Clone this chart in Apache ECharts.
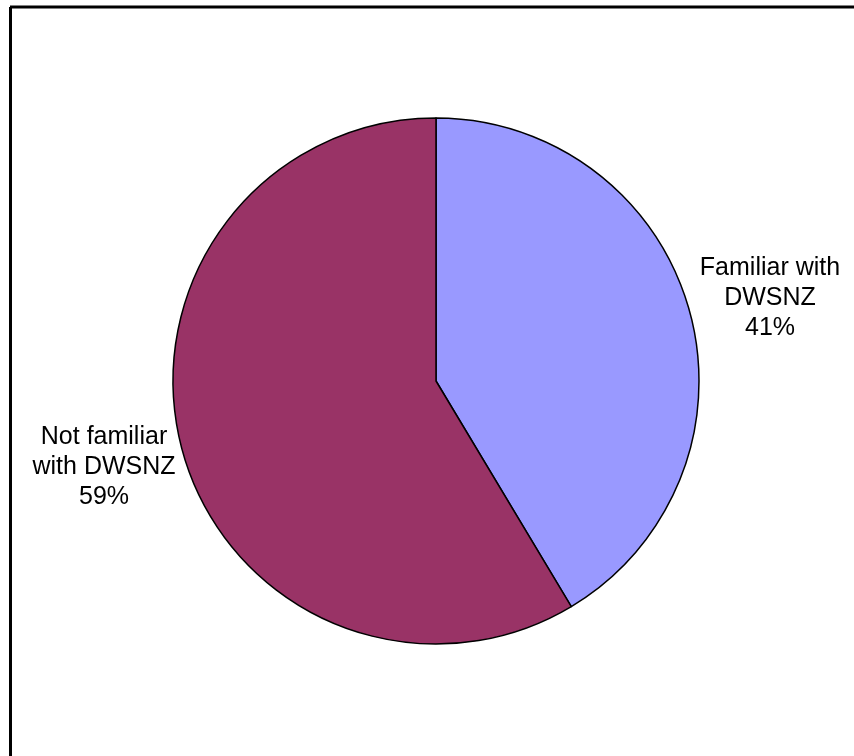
<!DOCTYPE html>
<html>
<head>
<meta charset="utf-8">
<script src="https://cdn.jsdelivr.net/npm/echarts@6/dist/echarts.min.js"></script>
<style>
  html, body { margin: 0; padding: 0; background: #fff; }
  #main { width: 854px; height: 756px; }
</style>
</head>
<body>
<div id="main"></div>
<script>
var categories = ["Familiar with\nDWSNZ", "Not familiar\nwith DWSNZ"];
// slice split (labels round to 41% / 59%)
var values = [41.4, 58.6];
var colors = ["#9999FF", "#993366"];

// label spots (block centres) for each slice
var labelSpots = [[770, 298], [104, 467]];

var dataList = [];
for (var i = 0; i < categories.length; i++) {
  dataList.push({
    name: categories[i],
    value: values[i],
    itemStyle: { color: colors[i] }
  });
}

var myChart = echarts.init(document.getElementById("main"));
myChart.setOption({
  animation: false,
  graphic: [
    // frame: only top and left edges show in the picture
    { type: "line", shape: { x1: 10.5, y1: 7, x2: 10.5, y2: 756 }, style: { stroke: "#000", lineWidth: 3 } },
    { type: "line", shape: { x1: 10, y1: 7, x2: 854, y2: 7 }, style: { stroke: "#000", lineWidth: 3 } }
  ],
  series: [
    {
      type: "pie",
      center: [436, 381],
      radius: 263,
      startAngle: 90,
      clockwise: true,
      itemStyle: {
        borderColor: "#000",
        borderWidth: 1.5
      },
      label: {
        show: true,
        position: "outside",
        color: "#000",
        fontFamily: "Liberation Sans, Arial, sans-serif",
        fontSize: 25,
        lineHeight: 30,
        align: "center",
        overflow: "none",
        width: 200,
        formatter: function (p) {
          return p.name + "\n" + Math.round(p.percent) + "%";
        }
      },
      labelLine: { show: false },
      labelLayout: function (params) {
        var s = labelSpots[params.dataIndex];
        return { x: s[0], y: s[1], align: "center", verticalAlign: "middle" };
      },
      emphasis: { disabled: true },
      data: dataList
    }
  ]
});
</script>
</body>
</html>
